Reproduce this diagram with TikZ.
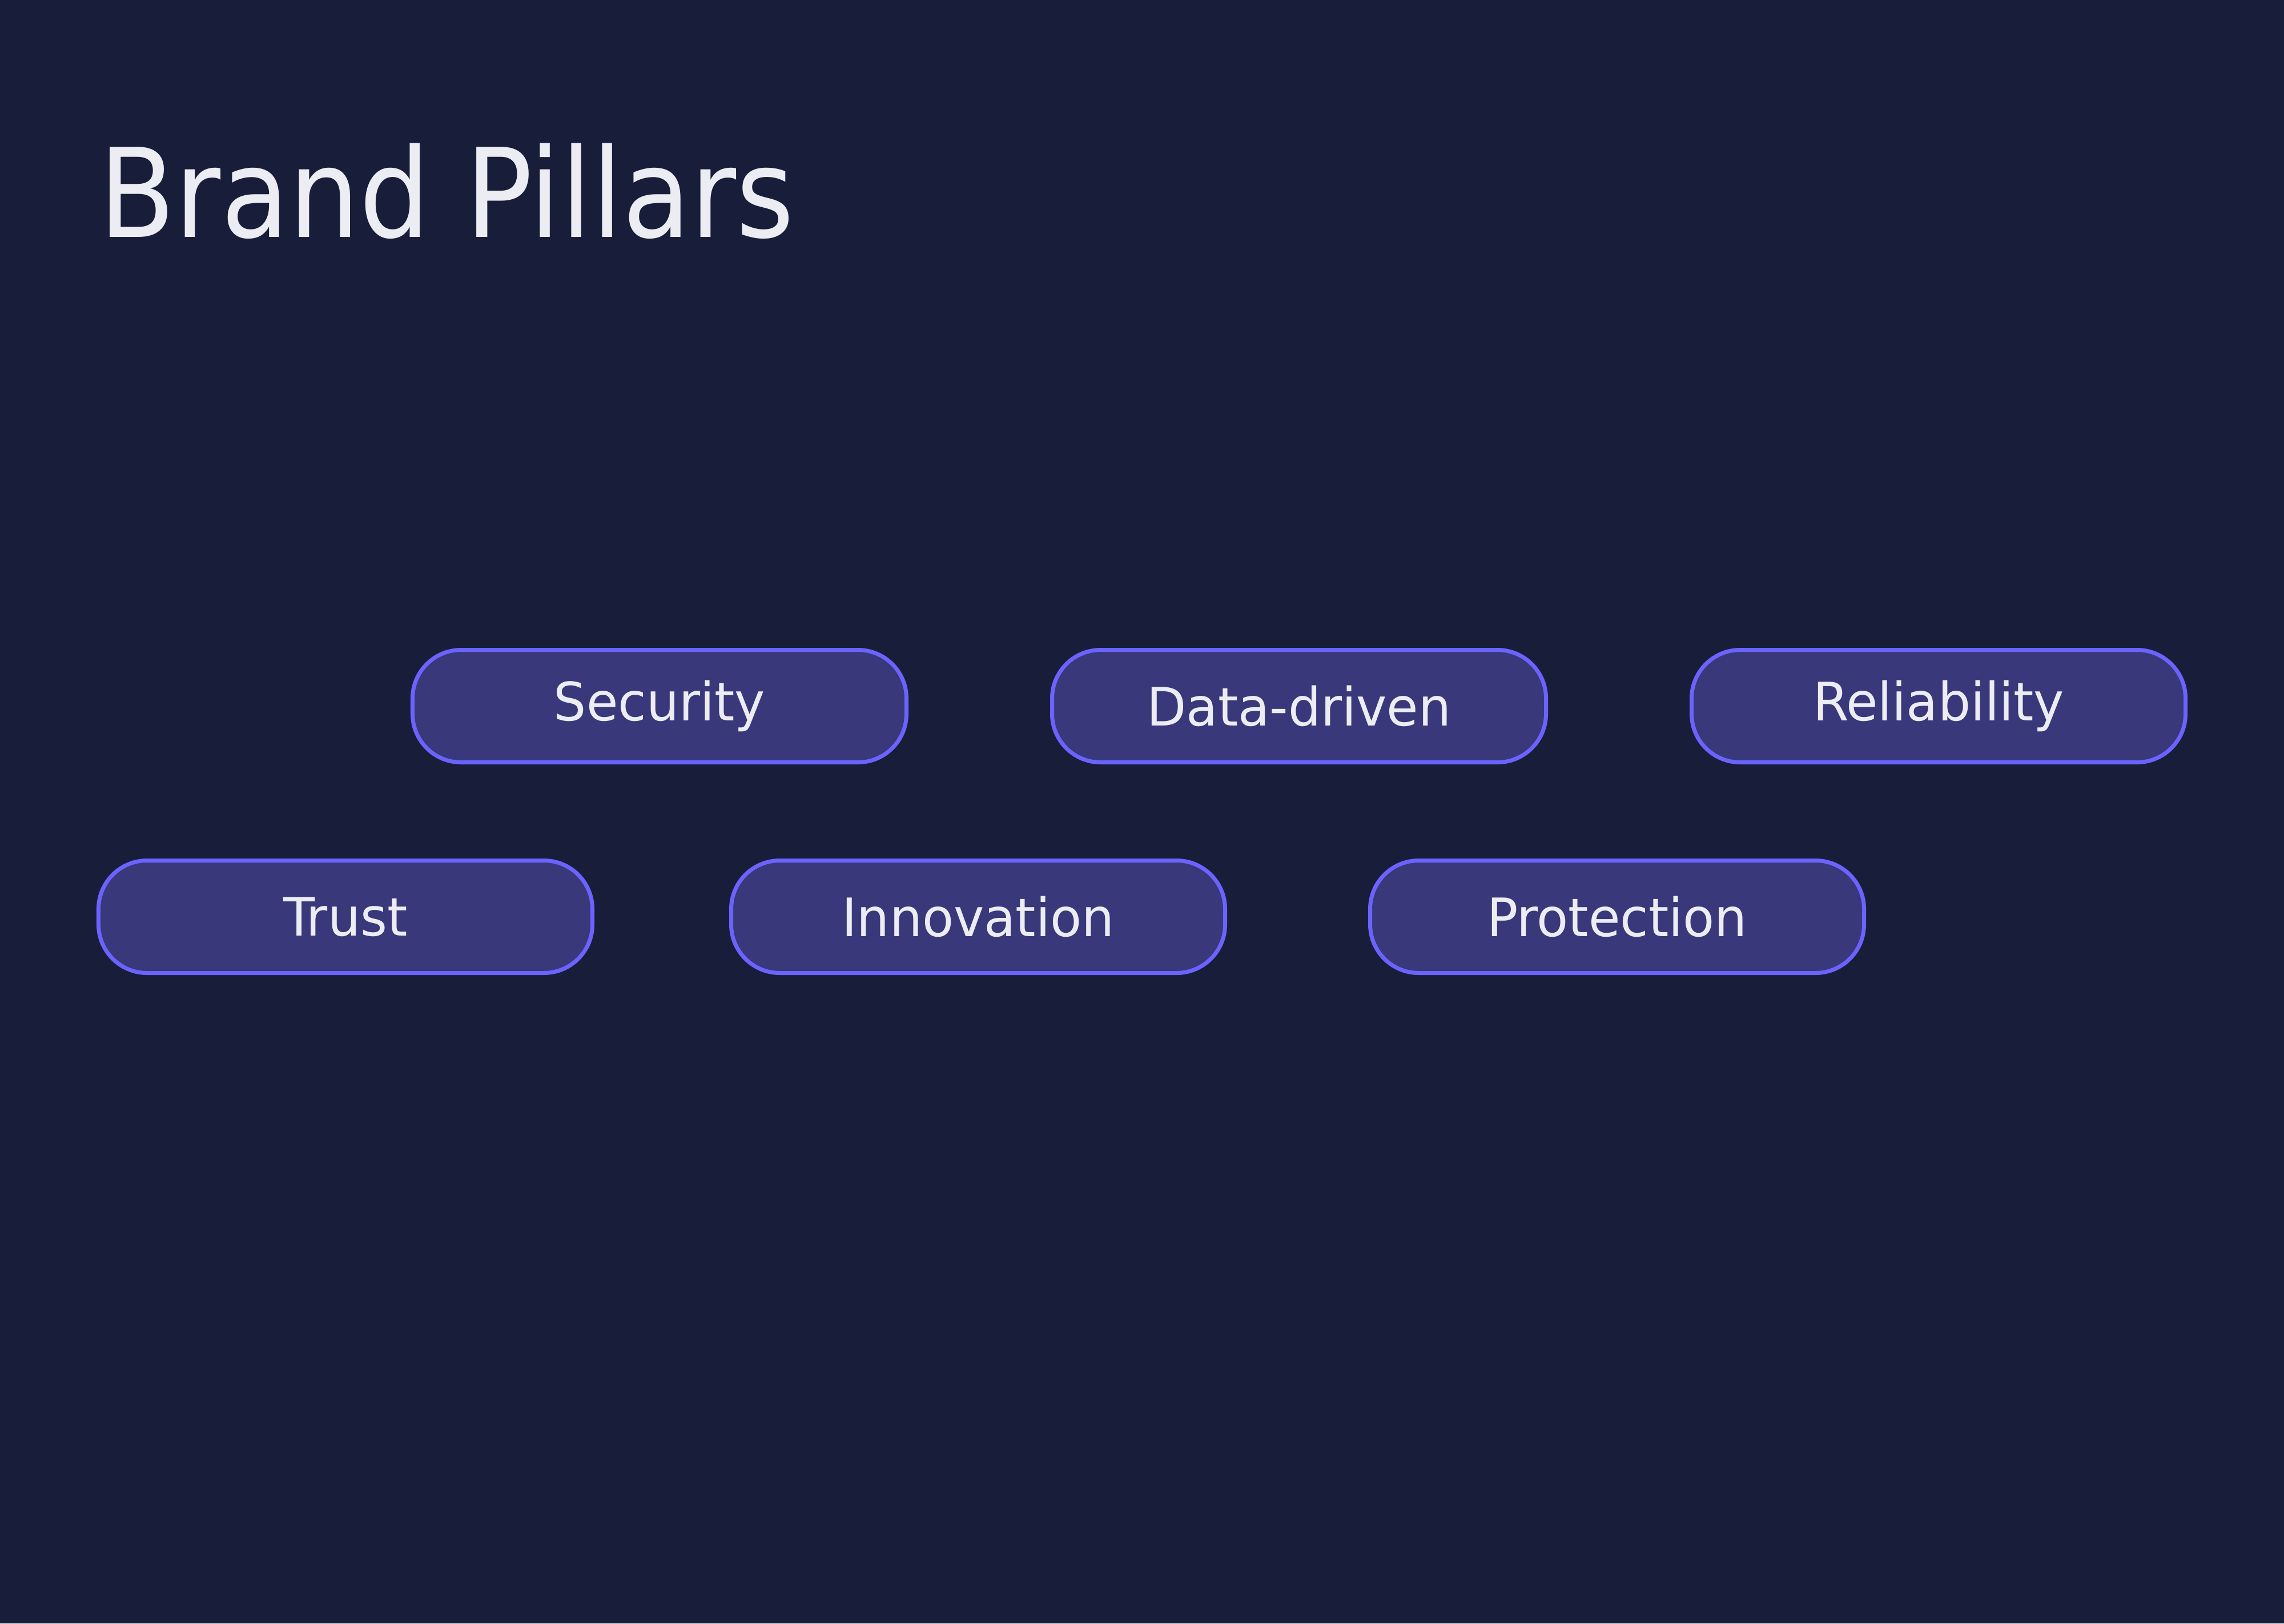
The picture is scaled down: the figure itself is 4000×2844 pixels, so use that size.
\documentclass[tikz,border=0pt]{standalone}
\usepackage{fontspec}
\setmainfont{DejaVu Sans Condensed}
\newfontfamily\pillfont{DejaVu Sans Condensed}[FakeStretch=1.08]
\usepackage{tikz}

\definecolor{bgcol}{RGB}{24,30,58}
\definecolor{pillfill}{RGB}{56,56,122}
\definecolor{pilledge}{RGB}{108,99,255}
\definecolor{txtcol}{RGB}{236,237,243}

\begin{document}
\begin{tikzpicture}[x=0.05mm,y=-0.05mm,
  pill/.style={draw=pilledge,fill=pillfill,line width=0.35mm,rounded corners=4.25mm,
    minimum width=43.25mm,minimum height=9.85mm,inner sep=0pt,text=txtcol,
    font=\pillfont\fontsize{13.2}{15}\selectfont}]
\fill[bgcol] (0,0) rectangle (4000,2844);
\useasboundingbox (0,0) rectangle (4000,2844);
\node[anchor=base west,inner sep=0pt,text=txtcol,font=\fontsize{30.8}{36}\selectfont] (T) at (172,415) {Brand Pillars};

\node[pill] (P1) at (1155,1237) {Security};
\node[pill] (P2) at (2275,1237) {Data-driven};
\node[pill] (P3) at (3395,1237) {Reliability};
%second row
\node[pill] (Q1) at (605,1606) {Trust};
\node[pill] (Q2) at (1713,1606) {Innovation};
\node[pill] (Q3) at (2832,1606) {Protection};
\end{tikzpicture}
\end{document}
